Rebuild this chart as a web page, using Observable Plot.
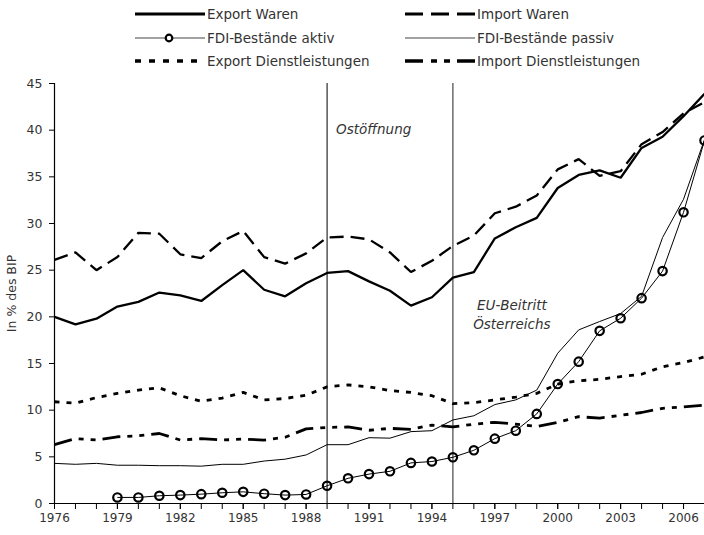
<!DOCTYPE html>
<html>
<head>
<meta charset="utf-8">
<script src="https://cdn.jsdelivr.net/npm/d3@7"></script>
<script src="https://cdn.jsdelivr.net/npm/@observablehq/plot@0.6"></script>
<style>
  html, body { margin: 0; padding: 0; background: #fff; }
  #chart svg { display: block; }
</style>
</head>
<body>
<div id="chart"></div>
<script>
// ---------- data ----------
const years = [1976,1977,1978,1979,1980,1981,1982,1983,1984,1985,1986,1987,1988,1989,1990,1991,
               1992,1993,1994,1995,1996,1997,1998,1999,2000,2001,2002,2003,2004,2005,2006,2007];

const exportWaren = [20.0,19.2,19.8,21.1,21.6,22.6,22.3,21.7,23.4,25.0,22.9,22.2,23.6,24.7,24.9,23.8,
                     22.8,21.2,22.1,24.2,24.8,28.4,29.6,30.6,33.8,35.2,35.7,34.9,38.1,39.3,41.5,43.9];
const importWaren = [26.1,26.9,25.0,26.4,29.0,28.9,26.7,26.3,28.1,29.2,26.4,25.7,26.8,28.5,28.6,28.3,
                     26.9,24.8,26.0,27.6,28.7,31.1,31.8,33.0,35.8,36.9,35.1,35.6,38.5,39.8,41.8,43.0];
const fdiAktiv    = [null,null,null,0.65,0.65,0.83,0.9,1.0,1.15,1.25,1.05,0.9,0.97,1.9,2.7,3.15,
                     3.45,4.35,4.5,4.95,5.7,6.95,7.8,9.6,12.8,15.2,18.5,19.85,22.0,24.9,31.2,38.9];
const fdiPassiv   = [4.3,4.2,4.3,4.1,4.1,4.05,4.05,4.0,4.2,4.2,4.55,4.75,5.2,6.3,6.3,7.05,
                     7.0,7.7,7.8,8.95,9.4,10.6,11.1,12.15,16.1,18.6,19.5,20.35,22.2,28.5,32.6,39.0];
const exportDL    = [10.9,10.75,11.35,11.8,12.15,12.4,11.55,10.95,11.3,11.9,11.1,11.25,11.6,12.5,12.7,12.5,
                     12.1,11.9,11.55,10.7,10.8,11.1,11.4,11.8,12.8,13.15,13.3,13.6,13.85,14.65,15.1,15.7];
const importDL    = [6.3,6.95,6.8,7.15,7.25,7.5,6.8,6.95,6.8,6.9,6.8,7.1,8.0,8.15,8.2,7.85,
                     8.05,7.95,8.4,8.2,8.5,8.7,8.5,8.25,8.7,9.3,9.15,9.45,9.75,10.2,10.35,10.55];

const seriesNames = ["Export Waren","Import Waren","FDI-Bestände aktiv","FDI-Bestände passiv",
                     "Export Dienstleistungen","Import Dienstleistungen"];
const yTicks = [0,5,10,15,20,25,30,35,40,45];
const xTickLabels = [1976,1979,1982,1985,1988,1991,1994,1997,2000,2003,2006];
const eventYears = [1989, 1995];
const annotations = [
  {year: 1989, value: 40.0, text: "Ostöffnung"},
  {year: 1995, value: 20.4, text: "EU-Beitritt\nÖsterreichs"}
];

// ---------- styles ----------
const FONT = "DejaVu Sans";
const TEXT = "#333";
const styles = {
  "Export Waren":            {strokeWidth: 2.3, dash: null,           legendDash: null},
  "Import Waren":            {strokeWidth: 2.3, dash: "14,7",         legendDash: "18,8"},
  "FDI-Bestände aktiv":      {strokeWidth: 1,   dash: null,           legendDash: null, dot: true},
  "FDI-Bestände passiv":     {strokeWidth: 1,   dash: null,           legendDash: null},
  "Export Dienstleistungen": {strokeWidth: 2.8, dash: "5,7",          legendDash: "6,8"},
  "Import Dienstleistungen": {strokeWidth: 2.8, dash: "18,7,5,7,5,7", legendDash: "18,8,6,7,6,7"}
};
const valuesByName = {
  "Export Waren": exportWaren, "Import Waren": importWaren,
  "FDI-Bestände aktiv": fdiAktiv, "FDI-Bestände passiv": fdiPassiv,
  "Export Dienstleistungen": exportDL, "Import Dienstleistungen": importDL
};
const rows = name => years.map((year, i) => ({year, value: valuesByName[name][i]}));

// ---------- legend (separate svg above the plot) ----------
const legendH = 72;
const legend = d3.create("svg").attr("width", 704).attr("height", legendH)
  .style("display", "block").style("background", "#fff");
const colX = [135, 405];
const rowY = [14, 38, 61];
seriesNames.forEach((name, k) => {
  const col = k % 2, row = Math.floor(k / 2);
  const x0 = colX[col], y0 = rowY[row], st = styles[name];
  const g = legend.append("g");
  g.append("line").attr("x1", x0).attr("x2", x0 + 70).attr("y1", y0).attr("y2", y0)
    .attr("stroke", st.strokeWidth === 1 ? "#444" : "#000")
    .attr("stroke-width", st.strokeWidth === 1 ? 1.2 : st.strokeWidth + 0.7)
    .attr("stroke-dasharray", st.legendDash);
  if (st.dot) {
    g.append("circle").attr("cx", x0 + 34).attr("cy", y0).attr("r", 3.3)
      .attr("fill", "#fff").attr("stroke", "#000").attr("stroke-width", 2.2);
  }
  g.append("text").attr("x", x0 + 72).attr("y", y0).attr("dy", "0.36em")
    .attr("font-family", FONT).attr("font-size", 13.5).attr("fill", TEXT).text(name);
});

// ---------- plot ----------
const lineMarks = seriesNames.map(name => Plot.line(rows(name), {
  x: "year", y: "value", stroke: "#000",
  strokeWidth: styles[name].strokeWidth,
  strokeDasharray: styles[name].dash,
  strokeLinejoin: "miter", strokeLinecap: "butt"
}));

const plot = Plot.plot({
  width: 704,
  height: 535 - legendH,
  marginTop: 11,
  marginBottom: 32,
  marginLeft: 54,
  marginRight: 0,
  style: {fontFamily: FONT, fontSize: "12px", color: TEXT, background: "#fff"},
  x: {domain: [1976, 2007], label: null},
  y: {domain: [0, 45], label: null},
  marks: [
    Plot.ruleX(eventYears, {stroke: d => d === 1989 ? "#000" : "#555", strokeWidth: d => d === 1989 ? 1 : 1.3}),
    ...lineMarks,
    Plot.dot(rows("FDI-Bestände aktiv").filter(d => d.value != null), {
      x: "year", y: "value", r: 4.2, fill: "none", stroke: "#000", strokeWidth: 2.2
    }),
    Plot.ruleY([0], {stroke: "#000", strokeWidth: 1.2}),
    Plot.ruleX([1976], {stroke: "#000", strokeWidth: 1.2}),
    Plot.axisY({ticks: yTicks, tickSize: 5, tickPadding: 7, fontSize: 12.5, stroke: "#000",
      label: "In % des BIP", labelAnchor: "center", labelArrow: "none", labelOffset: 47}),
    Plot.axisX({ticks: years, tickSize: 6, stroke: "#000", tickFormat: () => ""}),
    Plot.axisX({ticks: xTickLabels, tickSize: 6, tickPadding: 4, stroke: "#000", tickFormat: d => String(d)}),
    Plot.text([annotations[0]], {x: "year", y: "value", text: "text", dx: 9, textAnchor: "start",
      fontStyle: "italic", fontSize: 13.5, fill: TEXT}),
    Plot.text([annotations[1]], {x: "year", y: "value", text: "text", dx: 59, textAnchor: "middle",
      fontStyle: "italic", fontSize: 13.5, fill: TEXT, lineHeight: 1.45})
  ]
});

const chart = document.getElementById("chart");
chart.appendChild(legend.node());
chart.appendChild(plot);
</script>
</body>
</html>
